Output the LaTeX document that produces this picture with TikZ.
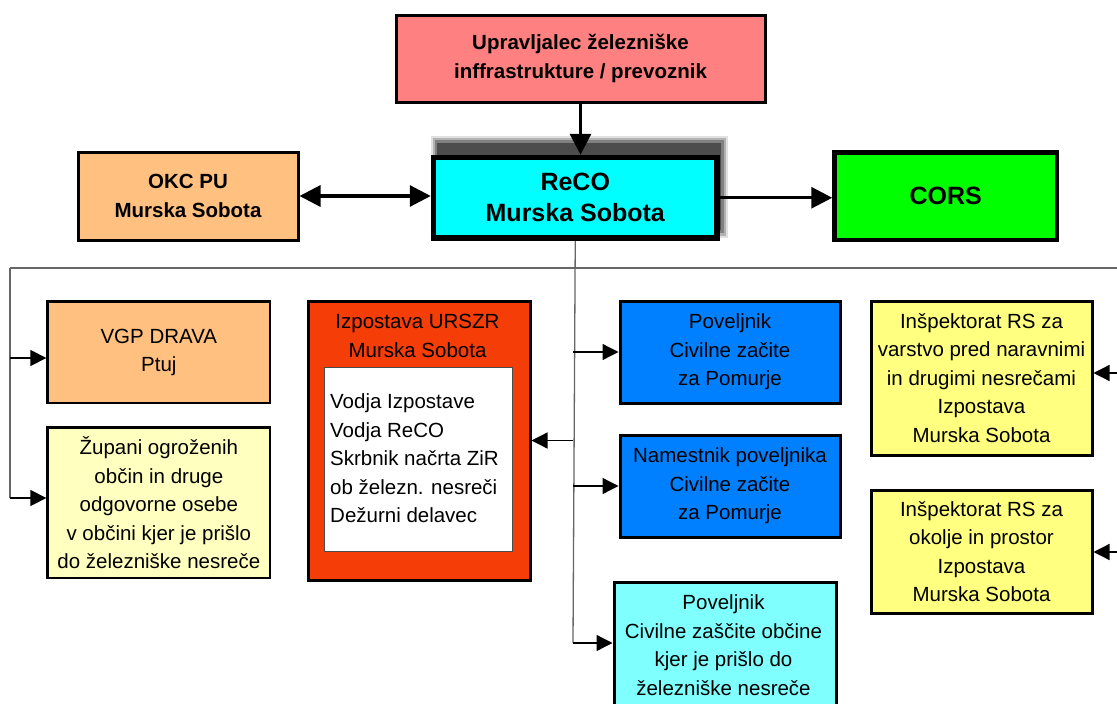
\documentclass[tikz,border=0pt]{standalone}
\usepackage{fontspec}
\setmainfont{Liberation Sans}
\usetikzlibrary{arrows.meta}
\definecolor{cpink}{HTML}{FF8080}
\definecolor{corange}{HTML}{FFC080}
\definecolor{ccyan}{HTML}{00FFFF}
\definecolor{cgreen}{HTML}{00FF00}
\definecolor{clyellow}{HTML}{FFFFC0}
\definecolor{cyellow}{HTML}{FFFF80}
\definecolor{cred}{HTML}{F53D08}
\definecolor{cblue}{HTML}{0080FF}
\definecolor{clcyan}{HTML}{80FFFF}
\tikzset{
  box/.style={draw=black, line width=3pt, align=center, inner sep=1pt, anchor=north west,
    font=\fontsize{20.5}{28.5}\selectfont},
  boldbox/.style={box, font=\bfseries\fontsize{20.5}{29}\selectfont},
  plaintext/.style={align=center, inner sep=0pt, font=\fontsize{20.5}{28.5}\selectfont},
  tree/.style={draw=black!60, line width=1.3pt},
  treearrow/.style={draw=black, line width=1.3pt, -{Triangle[length=16pt,width=16pt]}},
  bigarrow/.style={draw=black, line width=3.2pt, -{Triangle[length=21pt,width=21pt]}},
  bigdouble/.style={draw=black, line width=3.2pt, {Triangle[length=21pt,width=21pt]}-{Triangle[length=21pt,width=21pt]}}
}
\begin{document}
\begin{tikzpicture}[x=1pt,y=-1pt]
\useasboundingbox (0,0) rectangle (1117,704);
\fill[white] (0,0) rectangle (1117,704);

% top box
\node[boldbox, fill=cpink, minimum width=369pt, minimum height=87pt] (top) at (394.5,13.5)
  {Upravljalec železniške\\inffrastrukture / prevoznik};

% ReCO shadow (soft)
\fill[black!12] (431,136) rectangle (728,238);
\fill[black!30] (433,138) rectangle (726,236);
\fill[black!50] (435,140) rectangle (724,233);
\fill[black!70] (437,143) rectangle (721,230);
\node[box, line width=5.5pt, fill=ccyan, minimum width=283.5pt, minimum height=80.5pt,
  font=\bfseries\fontsize{25}{31}\selectfont] (reco) at (430.75,154.75)
  {ReCO\\Murska Sobota};

\node[boldbox, fill=corange, minimum width=220pt, minimum height=88pt] (okc) at (76.5,150.5)
  {OKC PU\\Murska Sobota};
\node[boldbox, line width=4.5pt, fill=cgreen, minimum width=222.5pt, minimum height=87.5pt,
  font=\bfseries\fontsize{25}{30}\selectfont] (cors) at (832.25,150.25) {CORS};

% left column
\node[box, line width=2.7pt, fill=corange, minimum width=222.3pt, minimum height=101.3pt] (vgp) at (46.35,300.35)
  {VGP DRAVA\\Ptuj};
\node[box, line width=2.7pt, fill=clyellow, minimum width=222.3pt, minimum height=150.3pt] (zup) at (46.35,426.35)
  {Župani ogroženih\\občin in druge\\odgovorne osebe\\v občini kjer je prišlo\\do železniške nesreče};

% URSZR
\node[box, fill=cred, minimum width=222pt, minimum height=279pt] (urszr) at (306.5,299.5) {};
\node[plaintext] (urszrt) at (417.5,336) {Izpostava URSZR\\Murska Sobota};
\node[box, draw=black!70, line width=1pt, fill=white, minimum width=188pt, minimum height=184pt] (urszri) at (323.5,366.5) {};
\node[plaintext, align=left, anchor=west] (urszrtxt) at (330,458.5)
  {Vodja Izpostave\\Vodja ReCO\\Skrbnik načrta ZiR\\ob železn. nesreči\\Dežurni delavec};

% middle column
\node[box, fill=cblue, minimum width=220pt, minimum height=102pt] (pov) at (618.5,299.5)
  {Poveljnik\\Civilne začite\\za Pomurje};
\node[box, fill=cblue, minimum width=220pt, minimum height=102pt] (nam) at (618.5,433.5)
  {Namestnik poveljnika\\Civilne začite\\za Pomurje};
\node[box, fill=clcyan, minimum width=222pt, minimum height=150pt] (pcz) at (612.5,580.5) {};
\node[plaintext] (pcztxt) at (723.5,645)
  {Poveljnik\\Civilne zaščite občine\\kjer je prišlo do\\železniške nesreče};

% right column
\node[box, fill=cyellow, minimum width=221pt, minimum height=154pt] (ins1) at (869.5,299.5)
  {Inšpektorat RS za\\varstvo pred naravnimi\\in drugimi nesrečami\\Izpostava\\Murska Sobota};
\node[box, fill=cyellow, minimum width=221pt, minimum height=123pt] (ins2) at (869.5,488.5)
  {Inšpektorat RS za\\okolje in prostor\\Izpostava\\Murska Sobota};

% top connectors
\draw[bigarrow] (top.south) -- (top.south |- reco.north);
\draw[bigdouble] (okc.east) -- (okc.east -| reco.west);
\draw[bigarrow] (reco.east) -- (reco.east -| cors.west);

% tree
\coordinate (hl) at (10,268);
\coordinate (hr) at (1117,268);
\coordinate (vb) at (573,643);
\coordinate (lb) at (10,498);
\coordinate (l1) at (10,358);
\coordinate (r1) at (1117,373);
\coordinate (r2) at (1117,552);
\draw[tree] (hl) -- (hr);
\draw[tree] (reco.south) -- (vb);
\draw[tree] (hl) -- (lb);

\draw[treearrow] (l1) -- (vgp.west |- l1);
\draw[treearrow] (lb) -- (zup.west |- lb);
\draw[treearrow] (vb) -- (pcz.west |- vb);
\draw[treearrow] (pov.west -| vb) -- (pov.west);
\draw[treearrow] (nam.west -| vb) -- (nam.west);
\draw[treearrow] (urszr.east -| vb) -- (urszr.east);
\draw[treearrow] (r1) -- (ins1.east |- r1);
\draw[treearrow] (r2) -- (ins2.east |- r2);
\end{tikzpicture}
\end{document}
